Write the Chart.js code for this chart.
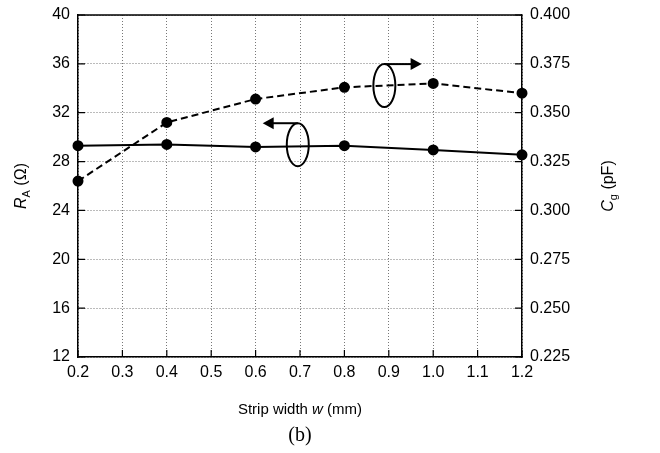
<!DOCTYPE html>
<html>
<head>
<meta charset="utf-8">
<script src="https://cdn.jsdelivr.net/npm/chart.js@4/dist/chart.umd.min.js"></script>
<style>
  html, body { margin: 0; padding: 0; background: #fff; }
  canvas { display: block; }
</style>
</head>
<body>
<canvas id="stripChart" width="660" height="453"></canvas>
<script>
// strip width w (mm) and the two simulated quantities
const widths = [0.2, 0.4, 0.6, 0.8, 1.0, 1.2];
const resistance = [29.3, 29.4, 29.2, 29.3, 28.95, 28.55];   // R_A (Ω), left axis
const capacitance = [0.315, 0.345, 0.357, 0.363, 0.365, 0.360]; // C_g (pF), right axis

// axis ranges: [min, max, step]
const xTicks = [0.2, 1.2, 0.1];
const leftTicks = [12, 40, 4];
const rightTicks = [0.225, 0.400, 0.025];

const SANS = 'Arial, "Liberation Sans", sans-serif';
const tickFont = { family: SANS, size: 16 };

// draws a run of text pieces (italic / subscript) centred on x,y
function richText(ctx, parts, x, y, angle) {
  ctx.save();
  ctx.translate(x, y);
  ctx.rotate(angle);
  ctx.textBaseline = 'middle';
  ctx.textAlign = 'left';
  let total = 0;
  parts.forEach(p => { ctx.font = p.font; total += ctx.measureText(p.text).width; });
  let cx = -total / 2;
  parts.forEach(p => {
    ctx.font = p.font;
    ctx.fillText(p.text, cx, p.dy || 0);
    cx += ctx.measureText(p.text).width;
  });
  ctx.restore();
}

function arrowHead(ctx, tipX, tipY, dir) {
  ctx.beginPath();
  ctx.moveTo(tipX, tipY);
  ctx.lineTo(tipX - dir * 11, tipY - 6);
  ctx.lineTo(tipX - dir * 11, tipY + 6);
  ctx.closePath();
  ctx.fill();
}

// ellipse around a curve with a leader arrow pointing to its axis
function curveMarker(ctx, cx, cy, tipX, dir) {
  const rx = 11, ry = 21.5;
  ctx.beginPath();
  ctx.ellipse(cx, cy, rx, ry, 0, 0, Math.PI * 2);
  ctx.stroke();
  ctx.beginPath();
  ctx.moveTo(cx, cy - ry);
  ctx.lineTo(tipX - dir * 8, cy - ry);
  ctx.stroke();
  arrowHead(ctx, tipX, cy - ry, dir);
}

// keep the plot box fixed: no extra room for half tick labels
function fixVertical(size) {
  return s => { s.width = size; s.paddingTop = 0; s.paddingBottom = 0; };
}

const decorations = {
  id: 'decorations',
  afterDatasetsDraw(chart) {
    const { ctx, chartArea: a, scales } = chart;
    const x = scales.x, yL = scales.yL, yR = scales.yR;
    ctx.save();
    ctx.strokeStyle = '#000';
    ctx.fillStyle = '#000';

    // top edge of the frame
    ctx.lineWidth = 1.5;
    ctx.beginPath();
    ctx.moveTo(a.left, a.top);
    ctx.lineTo(a.right, a.top);
    ctx.stroke();

    // inward tick marks
    ctx.lineWidth = 1.2;
    ctx.beginPath();
    x.ticks.forEach(t => {
      const px = x.getPixelForValue(t.value);
      ctx.moveTo(px, a.bottom);
      ctx.lineTo(px, a.bottom - 7);
    });
    yL.ticks.forEach(t => {
      const py = yL.getPixelForValue(t.value);
      ctx.moveTo(a.left, py);
      ctx.lineTo(a.left + 7, py);
    });
    yR.ticks.forEach(t => {
      const py = yR.getPixelForValue(t.value);
      ctx.moveTo(a.right, py);
      ctx.lineTo(a.right - 7, py);
    });
    ctx.stroke();

    ctx.lineWidth = 2;
    curveMarker(ctx, x.getPixelForValue(0.695), yL.getPixelForValue(29.38), x.getPixelForValue(0.616), -1);
    curveMarker(ctx, x.getPixelForValue(0.890), yL.getPixelForValue(34.22), x.getPixelForValue(0.974), 1);

    // axis titles
    const midY = (a.top + a.bottom) / 2;
    const big = '15px ' + SANS, ital = 'italic 15px ' + SANS;
    const vBig = '16px ' + SANS, vItal = 'italic 16px ' + SANS, vSub = '11px ' + SANS;
    richText(ctx, [
      { text: 'R', font: vItal },
      { text: 'A', font: vSub, dy: 5 },
      { text: ' (Ω)', font: vBig }
    ], 22, midY, -Math.PI / 2);
    richText(ctx, [
      { text: 'C', font: vItal },
      { text: 'g', font: vSub, dy: 5 },
      { text: ' (pF)', font: vBig }
    ], 609, midY, -Math.PI / 2);
    richText(ctx, [
      { text: 'Strip width ', font: big },
      { text: 'w', font: ital },
      { text: ' (mm)', font: big }
    ], (a.left + a.right) / 2, 410, 0);
    richText(ctx, [
      { text: '(b)', font: '20px "Times New Roman", "Liberation Serif", serif' }
    ], (a.left + a.right) / 2, 436, 0);
    ctx.restore();
  }
};

new Chart(document.getElementById('stripChart').getContext('2d'), {
  type: 'line',
  data: {
    labels: widths,
    datasets: [{
      label: 'R_A',
      data: widths.map((w, i) => ({ x: w, y: resistance[i] })),
      yAxisID: 'yL',
      borderColor: '#000',
      backgroundColor: '#000',
      borderWidth: 2,
      pointRadius: 4.5,
      tension: 0,
      clip: false
    }, {
      label: 'C_g',
      data: widths.map((w, i) => ({ x: w, y: capacitance[i] })),
      yAxisID: 'yR',
      borderColor: '#000',
      backgroundColor: '#000',
      borderWidth: 2,
      borderDash: [7, 4],
      pointRadius: 4.5,
      tension: 0,
      clip: false
    }]
  },
  options: {
    responsive: false,
    animation: false,
    devicePixelRatio: 1,
    layout: { padding: { top: 15, left: 0, right: 0, bottom: 0 } },
    plugins: { legend: { display: false }, tooltip: { enabled: false } },
    scales: {
      x: {
        type: 'linear',
        position: 'bottom',
        min: xTicks[0],
        max: xTicks[1],
        afterFit: s => { s.height = 96; s.paddingLeft = 0; s.paddingRight = 0; },
        ticks: {
          stepSize: xTicks[2],
          color: '#000',
          font: tickFont,
          padding: 6,
          maxRotation: 0,
          callback: v => v.toFixed(1)
        },
        grid: { color: '#777', lineWidth: 1, drawTicks: false },
        border: { color: '#000', width: 1.5, dash: [1, 2] }
      },
      yL: {
        type: 'linear',
        position: 'left',
        min: leftTicks[0],
        max: leftTicks[1],
        afterFit: fixVertical(78),
        ticks: { stepSize: leftTicks[2], color: '#000', font: tickFont, padding: 8 },
        grid: { color: '#777', lineWidth: 1, drawTicks: false },
        border: { color: '#000', width: 1.5, dash: [1, 2] }
      },
      yR: {
        type: 'linear',
        position: 'right',
        min: rightTicks[0],
        max: rightTicks[1],
        afterFit: fixVertical(138),
        ticks: {
          stepSize: rightTicks[2],
          color: '#000',
          font: tickFont,
          padding: 8,
          callback: v => v.toFixed(3)
        },
        grid: { display: false, drawTicks: false },
        border: { color: '#000', width: 1.5 }
      }
    }
  },
  plugins: [decorations]
});
</script>
</body>
</html>
